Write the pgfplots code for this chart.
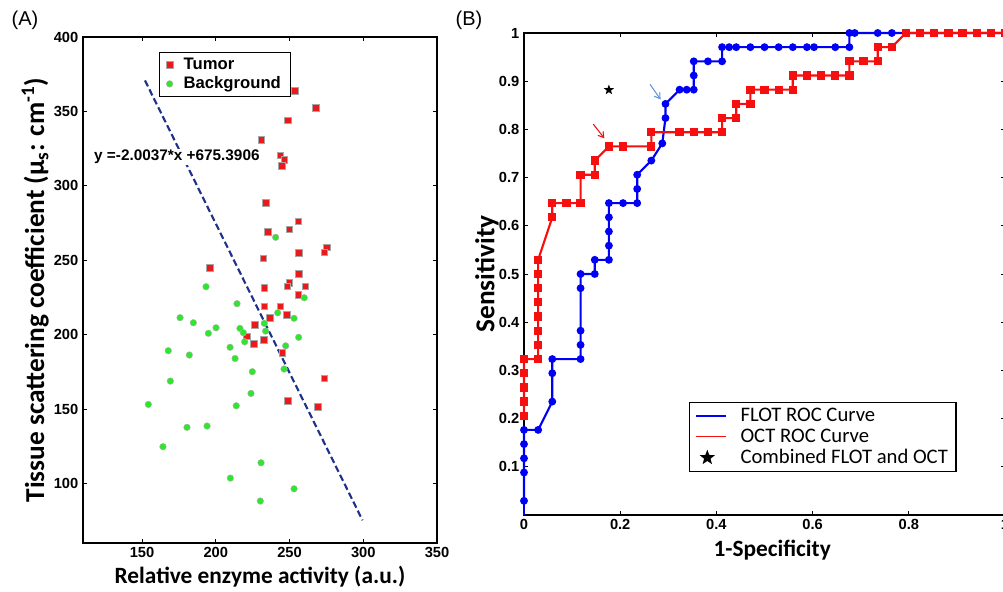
\documentclass[border=0pt]{standalone}
\usepackage{fontspec}
\setmainfont{Carlito}
\newfontfamily\arial{Liberation Sans}
\usepackage{pgfplots}
\pgfplotsset{compat=1.18}
\usetikzlibrary{arrows.meta}

\definecolor{tumred}{RGB}{235,25,25}
\definecolor{bggreen}{RGB}{45,230,45}
\definecolor{fitnavy}{RGB}{30,50,140}
\definecolor{flotblue}{RGB}{0,0,245}
\definecolor{octred}{RGB}{245,15,15}
\definecolor{arrowblue}{RGB}{95,150,215}

% filled five-point star
\pgfdeclareplotmark{fstar}{%
  \pgfpathmoveto{\pgfpointpolar{90}{\pgfplotmarksize}}%
  \pgfpathlineto{\pgfpointpolar{126}{0.42\pgfplotmarksize}}%
  \pgfpathlineto{\pgfpointpolar{162}{\pgfplotmarksize}}%
  \pgfpathlineto{\pgfpointpolar{198}{0.42\pgfplotmarksize}}%
  \pgfpathlineto{\pgfpointpolar{234}{\pgfplotmarksize}}%
  \pgfpathlineto{\pgfpointpolar{270}{0.42\pgfplotmarksize}}%
  \pgfpathlineto{\pgfpointpolar{306}{\pgfplotmarksize}}%
  \pgfpathlineto{\pgfpointpolar{342}{0.42\pgfplotmarksize}}%
  \pgfpathlineto{\pgfpointpolar{18}{\pgfplotmarksize}}%
  \pgfpathlineto{\pgfpointpolar{54}{0.42\pgfplotmarksize}}%
  \pgfpathclose\pgfusepathqfill}

\pgfplotsset{
  every axis/.append style={
    scale only axis,
    /pgf/number format/assume math mode=true,
    tick label style={font=\arial\bfseries\fontsize{11}{13}\selectfont},
    xlabel style={font=\bfseries\fontsize{17.5}{20}\selectfont},
    ylabel style={font=\bfseries\fontsize{20.5}{23}\selectfont},
    axis line style={line width=0.8pt},
    major tick length=3pt,
    every tick/.style={black, line width=0.6pt},
  },
  longline/.style={legend image code/.code={%
      \draw[##1] (0cm,0cm) -- (0.8cm,0cm);}},
}

\begin{document}
\begin{tikzpicture}[x=1pt,y=1pt]
\useasboundingbox (0,0) rectangle (752.25,444);
\node[font=\arial\fontsize{15}{18}\selectfont] at (18.75,429) {(A)};
\node[font=\arial\fontsize{15}{18}\selectfont] at (351.75,429) {(B)};

% ---------------- panel A ----------------
\begin{axis}[
    at={(62.25pt,36.75pt)}, anchor=south west,
    width=265.5pt, height=379.5pt,
    xmin=110, xmax=350, ymin=60, ymax=400,
    xtick={150,200,250,300,350},
    ytick={100,150,200,250,300,350,400},
    xlabel={Relative enzyme activity (a.u.)},
    ylabel={Tissue scattering coefficient (μ\textsubscript{s}: cm\textsuperscript{-1})},
    xlabel style={at={(axis description cs:0.5,-0.067)}, anchor=center},
    ylabel style={at={(axis description cs:-0.135,0.5)}, anchor=center},
    legend style={at={(0.215,0.97)}, anchor=north west,
        font=\arial\bfseries\fontsize{12.5}{14}\selectfont,
        draw=black, line width=0.8pt, row sep=0pt, inner xsep=5pt,
        /tikz/column 1/.style={column sep=6pt}},
    legend cell align=left,
]
\addplot[only marks, mark=square*, mark size=2.5pt,
    mark options={fill=tumred, draw=gray!70, line width=0.3pt}] coordinates {
(253.7,363.7) (267.8,352.5) (248.8,344.2) (230.7,330.8) (243.6,320.5)
(246.5,317.5) (244.9,313.3) (233.8,288.6) (256.0,276.3) (235.4,269.2)
(249.7,270.8) (256.2,255.0) (275.2,258.7) (273.6,255.5) (232.2,251.3)
(196.1,244.8) (256.2,240.9) (249.9,234.7) (248.5,232.5) (260.7,232.5)
(232.9,231.5) (255.8,226.8) (232.9,219.2) (243.6,219.2) (236.8,211.4)
(248.1,213.2) (226.6,206.5) (221.0,199.0) (232.5,196.8) (225.9,193.9)
(245.1,187.8) (273.6,170.8) (248.8,155.4) (269.3,151.6)
};
\addlegendentry{Tumor}
\addplot[only marks, mark=*, mark size=2.5pt,
    mark options={fill=bggreen, draw=gray!60, line width=0.3pt}] coordinates {
(240.6,265.4) (193.4,232.2) (260.0,224.8) (214.4,220.8) (175.8,211.4)
(184.8,208.0) (200.2,204.6) (195.0,200.9) (216.4,204.2) (218.7,201.3)
(219.6,195.2) (209.7,191.5) (213.1,184.0) (167.8,189.2) (182.1,186.3)
(242.0,214.7) (253.1,211.0) (232.9,207.6) (233.8,202.4) (256.2,198.2)
(247.4,192.5) (246.3,176.9) (224.8,175.1) (169.2,168.8) (223.9,160.5)
(154.3,153.1) (213.9,152.2) (180.5,137.7) (194.1,138.6) (164.2,124.7)
(230.7,113.9) (209.9,103.6) (253.1,96.4) (230.2,88.2)
};
\addlegendentry{Background}
\addplot[fitnavy, line width=1.6pt, dash pattern=on 5pt off 2.5pt, forget plot]
    coordinates {(152,370.83) (299.5,75.28)};
\node[anchor=west, fill=white, inner sep=1pt,
    font=\arial\bfseries\fontsize{11.5}{13}\selectfont]
    at (axis cs:116.5,319.4) {y =-2.0037*x +675.3906};
\end{axis}

% ---------------- panel B ----------------
\begin{axis}[
    at={(393pt,57.75pt)}, anchor=south west,
    width=360.75pt, height=361.5pt,
    xmin=0, xmax=1, ymin=0, ymax=1,
    xtick={0,0.2,0.4,0.6,0.8,1},
    ytick={0.1,0.2,0.3,0.4,0.5,0.6,0.7,0.8,0.9,1},
    clip=false,
    xlabel={1-Specificity},
    ylabel={Sensitivity},
    xlabel style={at={(axis description cs:0.516,-0.073)}, anchor=center},
    ylabel style={at={(axis description cs:-0.077,0.5)}, anchor=center},
    legend style={at={(0.343,0.2344)}, anchor=north west,
        font=\fontsize{15.5}{16}\selectfont,
        draw=black, line width=1pt, row sep=0pt, inner xsep=4pt,
        /tikz/column 1/.style={column sep=8pt}},
    legend cell align=left,
]
% FLOT ROC
\addplot[flotblue, line width=1.6pt, forget plot] coordinates {(0,0) (0,0.0294)};
\addplot[flotblue, line width=1.6pt, mark=*, mark size=2.1pt,
    mark options={fill=flotblue, draw=flotblue}, forget plot] coordinates {
(0,0.0294) (0,0.0882) (0,0.1176) (0,0.1471) (0,0.1765) (0.0294,0.1765)
(0.0588,0.2353) (0.0588,0.2941) (0.0588,0.3235) (0.1176,0.3235)
(0.1176,0.3529) (0.1176,0.3824) (0.1176,0.4706) (0.1176,0.5)
(0.1471,0.5) (0.1471,0.5294) (0.1765,0.5294) (0.1765,0.5588)
(0.1765,0.5882) (0.1765,0.6176) (0.1765,0.6471) (0.2059,0.6471)
(0.2353,0.6471) (0.2353,0.6765) (0.2353,0.7059) (0.2647,0.7353)
(0.2875,0.7710) (0.2941,0.8235) (0.2941,0.8529) (0.3235,0.8824)
(0.3382,0.8824) (0.3529,0.8824) (0.3529,0.9118) (0.3529,0.9412)
(0.3824,0.9412) (0.4118,0.9412) (0.4118,0.9706) (0.4265,0.9706)
(0.4412,0.9706) (0.4706,0.9706) (0.5,0.9706) (0.5294,0.9706)
(0.5588,0.9706) (0.5882,0.9706) (0.6029,0.9706) (0.6471,0.9706)
(0.6765,0.9706) (0.6765,1) (0.6875,1) (0.7353,1) (0.7647,1) (1,1)
};
% OCT ROC
\addplot[octred, line width=1.6pt, mark=square*, mark size=2.3pt,
    mark options={fill=octred, draw=octred}, forget plot] coordinates {
(0,0.2059) (0,0.2353) (0,0.2647) (0,0.2941) (0,0.3235) (0.0294,0.3235)
(0.0294,0.3529) (0.0294,0.3824) (0.0294,0.4118) (0.0294,0.4412)
(0.0294,0.4706) (0.0294,0.5) (0.0294,0.5294) (0.0588,0.6176)
(0.0588,0.6471) (0.0882,0.6471) (0.1176,0.6471) (0.1176,0.7059)
(0.1471,0.7059) (0.1471,0.7353) (0.1765,0.7647) (0.2059,0.7647)
(0.2647,0.7647) (0.2647,0.7941) (0.3235,0.7941) (0.3529,0.7941)
(0.3824,0.7941) (0.4118,0.7941) (0.4118,0.8235) (0.4412,0.8235)
(0.4412,0.8529) (0.4706,0.8529) (0.4706,0.8824) (0.5,0.8824)
(0.5294,0.8824) (0.5588,0.8824) (0.5588,0.9118) (0.5882,0.9118)
(0.6176,0.9118) (0.6471,0.9118) (0.6765,0.9118) (0.6765,0.9412)
(0.7059,0.9412) (0.7353,0.9412) (0.7353,0.9706) (0.7647,0.9706)
(0.7941,1) (0.8235,1) (0.8529,1) (0.8824,1) (0.9118,1) (0.9412,1)
(0.9706,1) (1,1)
};
% combined operating point
\addplot[only marks, mark=fstar, mark size=4pt, black, forget plot]
    coordinates {(0.1765,0.882)};
\draw[-{Straight Barb[length=4pt,width=5pt]}, octred, line width=0.8pt]
    (axis cs:0.144,0.811) -- (axis cs:0.167,0.7815);
\draw[-{Straight Barb[length=4pt,width=5pt]}, arrowblue, line width=0.8pt]
    (axis cs:0.262,0.8935) -- (axis cs:0.284,0.862);
\addlegendimage{longline, flotblue, line width=1.4pt}
\addlegendentry{FLOT ROC Curve}
\addlegendimage{longline, octred, line width=1.4pt}
\addlegendentry{OCT ROC Curve}
\addlegendimage{only marks, mark=fstar, mark size=6pt, black}
\addlegendentry{Combined FLOT and OCT}
\end{axis}
\end{tikzpicture}
\end{document}
